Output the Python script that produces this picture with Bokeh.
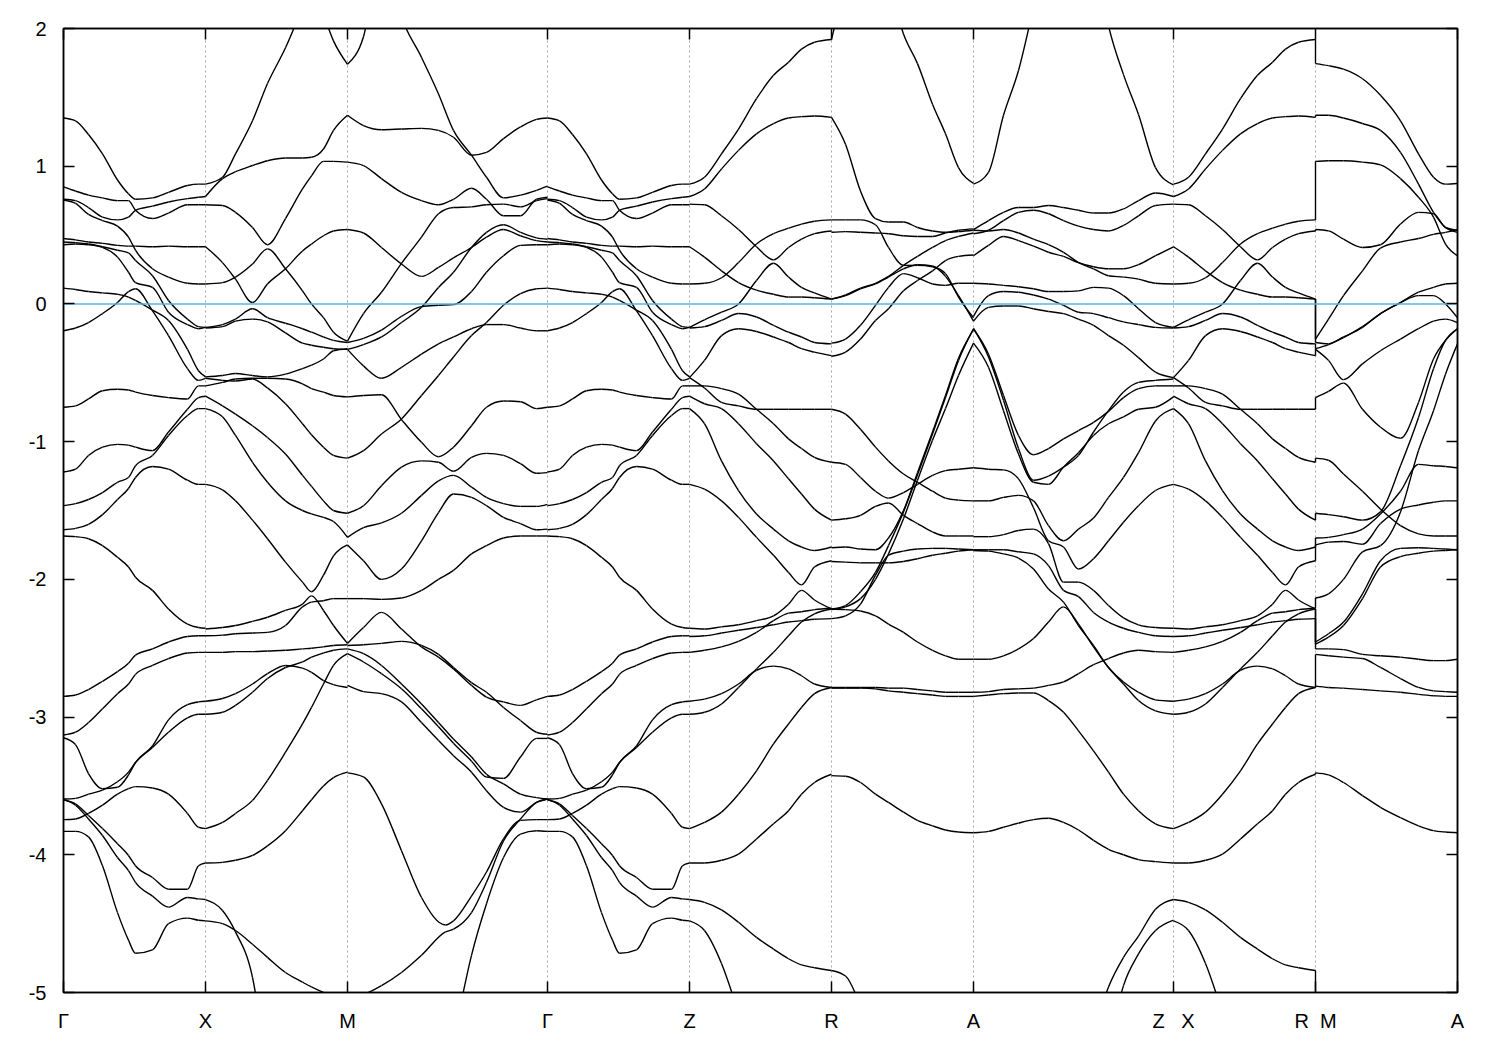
from bokeh.embed import file_html
from bokeh.resources import INLINE
from bokeh.plotting import figure
from bokeh.models import FixedTicker, LinearAxis, Range1d

nan = float("nan")

# k-path tick positions and labels
k_ticks = [0, 142, 284, 484, 626, 768, 910, 1110, 1252, 1394]
k_labels = ["\u0393", "X", "M", "\u0393", "Z", "R", "A", "Z\u00a0\u00a0\u00a0X", "R\u00a0\u00a0M", "A"]
e_ticks = [-5, -4, -3, -2, -1, 0, 1, 2]
e_labels = ["-5", "-4", "-3", "-2", "-1", "0", "1", "2"]

# Gamma -> X (same bands on Gamma -> Z)
GX_x = [0, 12, 25, 39, 54, 65, 72, 89, 105, 124, 135, 142]
GX_1 = [1.35, 1.33, 1.23, 1.09, .90, .80, .76, .77, .81, .86, .87, .87]
GX_2 = [.85, .82, .79, .77, .75, .75, .68, .62, .66, .72, .72, .72]
GX_3 = [.76, .75, .70, .63, .61, .63, .68, .71, .74, .765, .775, .78]
GX_4 = [.755, .73, .65, .605, .565, .485, .39, .255, .195, .15, .145, .145]
GX_5 = [.475, .465, .45, .44, .425, .42, .42, .415, .42, .415, .415, .415]
GX_6 = [.45, .445, .435, .415, .39, .37, .315, .205, .025, -.11, -.165, -.17]
GX_7 = [.43, .435, .43, .41, .34, .23, .155, .12, -.06, -.15, -.18, -.17]
GX_8 = [.115, .105, .09, .08, .07, .05, .025, -.045, -.12, -.33, -.485, -.53]
GX_9 = [-.195, -.175, -.135, -.07, .01, .09, .11, -.05, -.23, -.47, -.555, -.54]
GX_10 = [-.75, -.74, -.69, -.63, -.62, -.625, -.64, -.665, -.68, -.69, -.595, -.595]
GX_11 = [-1.22, -1.20, -1.10, -1.04, -1.02, -1.025, -1.04, -1.065, -.93, -.765, -.68, -.67]
GX_12 = [-1.465, -1.45, -1.42, -1.37, -1.295, -1.26, -1.175, -1.10, -.955, -.81, -.76, -.76]
GX_13 = [-1.64, -1.63, -1.60, -1.53, -1.42, -1.34, -1.26, -1.18, -1.20, -1.28, -1.31, -1.31]
GX_14 = [-1.685, -1.69, -1.705, -1.755, -1.84, -1.91, -1.985, -2.08, -2.215, -2.325, -2.35, -2.355]
GX_15 = [-2.85, -2.84, -2.80, -2.74, -2.67, -2.61, -2.55, -2.505, -2.455, -2.415, -2.41, -2.41]
GX_16 = [-3.13, -3.11, -3.04, -2.94, -2.83, -2.76, -2.69, -2.625, -2.575, -2.535, -2.53, -2.53]
GX_17 = [-3.15, -3.20, -3.41, -3.52, -3.51, -3.42, -3.33, -3.21, -3.02, -2.91, -2.89, -2.885]
GX_18 = [-3.595, -3.59, -3.56, -3.53, -3.47, -3.40, -3.33, -3.22, -3.11, -3.005, -2.98, -2.98]
GX_19 = [-3.745, -3.74, -3.70, -3.64, -3.56, -3.52, -3.505, -3.515, -3.56, -3.70, -3.80, -3.81]
GX_20 = [-3.60, -3.64, -3.74, -3.86, -4.02, -4.115, -4.20, -4.30, -4.38, -4.31, -4.32, -4.325]
GX_21 = [-3.60, -3.63, -3.715, -3.81, -3.92, -4.005, -4.08, -4.165, -4.25, -4.25, -4.08, -4.06]
GX_22 = [-3.83, -3.83, -3.87, -4.08, -4.42, -4.62, -4.715, -4.69, -4.50, -4.46, -4.475, -4.48]
GX = [GX_1, GX_2, GX_3, GX_4, GX_5, GX_6, GX_7, GX_8, GX_9, GX_10, GX_11, GX_12, GX_13, GX_14,
      GX_15, GX_16, GX_17, GX_18, GX_19, GX_20, GX_21, GX_22]

# X -> M
XM_x = [0, 17, 30, 47, 62, 80, 97, 106, 118, 128, 142]
XM_1 = [.87, .92, 1.09, 1.33, 1.60, 1.86, 2.15, 2.3, 2.1, 1.91, 1.74]
XM_2 = [.78, .91, .96, 1.005, 1.04, 1.06, 1.06, 1.065, 1.125, 1.26, 1.37]
XM_3 = [.72, .715, .665, .555, .43, .62, .835, .93, 1.035, 1.035, 1.03]
XM_4 = [.415, .30, .18, .01, .145, .255, .385, .435, .495, .53, .54]
XM_5 = [.145, .155, .195, .29, .40, .255, .095, 0, -.10, -.205, -.27]
XM_6 = [-.17, -.15, -.11, -.035, -.10, -.14, -.18, -.205, -.24, -.265, -.28]
XM_7 = [-.175, -.165, -.125, -.11, -.13, -.21, -.285, -.30, -.315, -.325, -.33]
XM_8 = [-.53, -.52, -.505, -.52, -.53, -.51, -.47, -.445, -.40, -.34, -.325]
XM_9 = [-.595, -.57, -.545, -.54, -.54, -.545, -.58, -.615, -.64, -.665, -.675]
XM_10 = [-.54, -.555, -.56, -.545, -.61, -.725, -.87, -.95, -1.04, -1.10, -1.12]
XM_11 = [-.67, -.74, -.80, -.885, -.97, -1.09, -1.245, -1.325, -1.43, -1.50, -1.52]
XM_12 = [-.76, -.82, -.955, -1.15, -1.295, -1.43, -1.50, -1.525, -1.55, -1.58, -1.695]
XM_13 = [-1.31, -1.35, -1.43, -1.57, -1.705, -1.875, -2.02, -2.09, -1.97, -1.83, -1.75]
XM_14 = [-2.36, -2.35, -2.335, -2.305, -2.275, -2.225, -2.18, -2.12, -2.226, -2.335, -2.465]
XM_15 = [-2.41, -2.405, -2.395, -2.39, -2.385, -2.335, -2.20, -2.165, -2.155, -2.14, -2.14]
XM_16 = [-2.53, -2.53, -2.525, -2.525, -2.52, -2.515, -2.505, -2.50, -2.49, -2.48, -2.475]
XM_17 = [-2.885, -2.865, -2.83, -2.76, -2.685, -2.625, -2.645, -2.675, -2.735, -2.765, -2.785]
XM_18 = [-2.98, -2.965, -2.915, -2.82, -2.72, -2.64, -2.60, -2.565, -2.535, -2.515, -2.505]
XM_19 = [-3.81, -3.765, -3.70, -3.605, -3.46, -3.255, -3.05, -2.93, -2.76, -2.625, -2.54]
XM_20 = [-4.06, -4.055, -4.04, -4.005, -3.935, -3.825, -3.68, -3.60, -3.50, -3.44, -3.40]
XM_21 = [-4.325, -4.405, -4.56, -4.89, -5.6, nan, nan, nan, nan, nan, nan]
XM_22 = [-4.48, -4.50, -4.55, -4.65, -4.745, -4.855, -4.925, -4.96, -5.0, -5.03, -5.04]
XM = [XM_1, XM_2, XM_3, XM_4, XM_5, XM_6, XM_7, XM_8, XM_9, XM_10, XM_11, XM_12, XM_13, XM_14,
      XM_15, XM_16, XM_17, XM_18, XM_19, XM_20, XM_21, XM_22]

# M -> Gamma
MG_x = [0, 16, 34, 54, 74, 91, 106, 124, 139, 156, 173, 189, 200]
MG_x2 = [0, 16, 34, 54, 74, 98, 106, 124, 139, 156, 173, 189, 200]
MG_1 = [1.74, 1.94, 2.6, 2.08, 1.79, 1.525, 1.26, 1.08, .92, .77, .79, .825, .855]
MG_2 = [1.37, 1.295, 1.265, 1.27, 1.275, 1.26, 1.21, 1.08, 1.10, 1.20, 1.285, 1.34, 1.35]
MG_3 = [1.03, 1.005, .91, .81, .75, .72, .76, .84, .76, .64, .64, .76, .775]
MG_4 = [.54, .515, .41, .29, .20, .265, .335, .41, .485, .54, .495, .46, .45]
MG_5 = [-.27, -.07, .085, .295, .485, .655, .70, .705, .72, .725, .705, .75, .765]
MG_6 = [-.28, -.25, -.19, -.09, -.02, -.01, -.005, .09, .23, .35, .425, .43, .43]
MG_7 = [-.33, -.295, -.24, -.135, -.025, .12, .23, .41, .52, .575, .52, .48, .47]
MG_9 = [-1.12, -1.065, -.945, -.835, -.665, -.52, -.385, -.23, -.135, -.01, .075, .11, .115]
MG_10 = [-.33, -.45, -.54, -.46, -.365, -.29, -.24, -.18, -.15, -.15, -.175, -.195, -.195]
MG_11 = [-.675, -.665, -.66, -.84, -1.005, -1.11, -1.04, -.885, -.75, -.705, -.71, -.76, -.75]
MG_12 = [-1.52, -1.465, -1.32, -1.185, -1.14, -1.15, -1.215, -1.115, -1.085, -1.10, -1.16, -1.23, -1.225]
MG_13 = [-1.695, -1.625, -1.59, -1.52, -1.39, -1.285, -1.245, -1.33, -1.405, -1.45, -1.47, -1.47, -1.455]
MG_14 = [-1.75, -1.865, -2.0, -1.925, -1.72, -1.515, -1.38, -1.405, -1.465, -1.55, -1.595, -1.64, -1.635]
MG_15 = [-2.14, -2.14, -2.145, -2.135, -2.08, -2.0, -1.935, -1.815, -1.755, -1.70, -1.685, -1.685, -1.685]
MG_16 = [-2.465, -2.35, -2.24, -2.36, -2.49, -2.565, -2.65, -2.77, -2.855, -2.89, -2.915, -2.875, -2.85]
MG_17 = [-2.48, -2.475, -2.465, -2.45, -2.48, -2.545, -2.64, -2.75, -2.82, -2.93, -3.025, -3.11, -3.125]
MG_18 = [-2.505, -2.54, -2.625, -2.76, -2.905, -3.04, -3.16, -3.29, -3.415, -3.485, -3.56, -3.585, -3.595]
MG_19 = [-2.54, -2.60, -2.685, -2.795, -2.94, -3.07, -3.19, -3.32, -3.435, -3.445, -3.29, -3.155, -3.155]
MG_20 = [-2.77, -2.815, -2.83, -2.89, -3.04, -3.17, -3.28, -3.40, -3.535, -3.655, -3.69, -3.62, -3.595]
MG_23 = [nan, nan, nan, nan, nan, nan, -5.35, -4.73, -4.355, -4.02, -3.85, -3.825, -3.83]
MG = [MG_1, MG_2, MG_3, MG_4, MG_5, MG_6, MG_7, MG_9, MG_10, MG_11, MG_12, MG_13, MG_14, MG_15,
      MG_16, MG_17, MG_18, MG_19, MG_20, MG_23]
MG_21 = [-3.405, -3.435, -3.63, -3.97, -4.31, -4.51, -4.48, -4.30, -4.125, -3.885, -3.75, -3.745, -3.745]
MG_22 = [-5.04, -5.015, -4.95, -4.855, -4.73, -4.56, -4.54, -4.42, -4.20, -3.90, -3.74, -3.62, -3.595]
MG2 = [MG_21, MG_22]

# Z -> R (same bands on X -> R)
ZR_x = [0, 15, 32, 49, 67, 84, 99, 112, 125, 142]
ZR_1 = [.87, .92, 1.09, 1.27, 1.49, 1.66, 1.755, 1.85, 1.90, 1.92]
ZR_2 = [.78, .835, .98, 1.115, 1.235, 1.31, 1.35, 1.36, 1.365, 1.355]
ZR_3 = [.725, .72, .64, .54, .415, .32, .41, .47, .51, .53]
ZR_4 = [.415, .34, .24, .155, .10, .07, .05, .05, .045, .035]
ZR_5 = [.145, .15, .19, .30, .435, .51, .55, .58, .60, .61]
ZR_6 = [-.17, -.115, -.06, 0, .17, .295, .195, .12, .08, .035]
ZR_7 = [-.175, -.165, -.12, -.07, -.095, -.155, -.205, -.24, -.28, -.29]
ZR_8 = [-.535, -.41, -.23, -.18, -.20, -.24, -.28, -.325, -.35, -.375]
ZR_9 = [-.595, -.595, -.615, -.655, -.765, -.87, -.98, -1.05, -1.115, -1.15]
ZR_10 = [-.535, -.61, -.715, -.74, -.765, -.765, -.765, -.765, -.765, -.765]
ZR_11 = [-.67, -.725, -.76, -.87, -1.015, -1.14, -1.27, -1.38, -1.49, -1.57]
ZR_12 = [-.76, -.87, -1.14, -1.355, -1.525, -1.635, -1.72, -1.765, -1.79, -1.765]
ZR_13 = [-1.31, -1.345, -1.43, -1.55, -1.695, -1.825, -1.95, -2.04, -1.91, -1.865]
ZR_14 = [-2.355, -2.36, -2.345, -2.33, -2.30, -2.265, -2.18, -2.08, -2.15, -2.215]
ZR_15 = [-2.415, -2.41, -2.39, -2.37, -2.35, -2.33, -2.31, -2.30, -2.29, -2.285]
ZR_16 = [-2.53, -2.515, -2.49, -2.45, -2.385, -2.30, -2.245, -2.235, -2.22, -2.21]
ZR_17 = [-2.885, -2.87, -2.83, -2.76, -2.66, -2.63, -2.65, -2.70, -2.76, -2.785]
ZR_18 = [-2.98, -2.965, -2.905, -2.785, -2.65, -2.53, -2.41, -2.31, -2.25, -2.215]
ZR_19 = [-3.81, -3.765, -3.69, -3.56, -3.39, -3.195, -3.05, -2.93, -2.83, -2.785]
ZR_20 = [-4.06, -4.06, -4.04, -3.995, -3.885, -3.775, -3.68, -3.56, -3.475, -3.415]
ZR_21 = [-4.325, -4.345, -4.40, -4.49, -4.60, -4.685, -4.755, -4.80, -4.82, -4.84]
ZR_22 = [-4.48, -4.55, -4.79, -5.15, nan, nan, nan, nan, nan, nan]
ZR = [ZR_1, ZR_2, ZR_3, ZR_4, ZR_5, ZR_6, ZR_7, ZR_8, ZR_9, ZR_10, ZR_11, ZR_12, ZR_13, ZR_14,
      ZR_15, ZR_16, ZR_17, ZR_18, ZR_19, ZR_20, ZR_21, ZR_22]

# R -> A
RA_x = [0, 14, 29, 44, 57, 72, 86, 101, 114, 127, 142]
RA_1 = [1.92, 2.3, 2.5, 2.7, 2.35, 1.96, 1.745, 1.45, 1.235, .99, .875]
RA_2 = [1.355, 1.16, .82, .62, .595, .595, .555, .53, .52, .525, .535]
RA_3 = [.61, .61, .61, .575, .41, .28, .28, .27, .22, .05, -.10]
RA_4 = [.035, .06, .11, .145, .195, .255, .285, .275, .20, .06, -.125]
RA_5 = [.035, .065, .115, .15, .20, .28, .345, .41, .46, .49, .515]
RA_6 = [.52, .525, .52, .515, .51, .495, .49, .49, .515, .535, .545]
RA_7 = [-.285, -.255, -.155, -.01, .12, .22, .19, .145, .135, .15, .15]
RA_8 = [-.38, -.35, -.255, -.12, -.035, .095, .17, .24, .315, .345, .355]
RA_9 = [-.765, -.80, -.91, -1.04, -1.14, -1.235, -1.295, -1.36, -1.41, -1.425, -1.43]
RA_10 = [-1.15, -1.165, -1.26, -1.36, -1.41, -1.37, -1.31, -1.245, -1.21, -1.20, -1.19]
RA_11 = [-1.57, -1.56, -1.535, -1.47, -1.445, -1.535, -1.595, -1.655, -1.685, -1.685, -1.685]
RA_12 = [-1.77, -1.765, -1.78, -1.785, -1.70, -1.50, -1.225, -.93, -.665, -.395, -.185]
RA_13 = [-2.215, -2.22, -2.23, -2.265, -2.325, -2.385, -2.455, -2.515, -2.555, -2.58, -2.58]
RA_14 = [-2.215, -2.19, -2.09, -1.95, -1.755, -1.51, -1.24, -.945, -.68, -.41, -.18]
RA_15 = [-2.22, -2.20, -2.14, -2.0, -1.815, -1.56, -1.28, -.99, -.76, -.52, -.285]
RA_16 = [-2.285, -2.265, -2.18, -1.97, -1.825, -1.795, -1.78, -1.775, -1.775, -1.78, -1.785]
RA_17 = [-1.87, -1.875, -1.88, -1.88, -1.88, -1.87, -1.85, -1.825, -1.81, -1.795, -1.785]
RA_18 = [-2.785, -2.785, -2.785, -2.785, -2.79, -2.79, -2.80, -2.81, -2.82, -2.82, -2.82]
RA_19 = [-2.79, -2.79, -2.79, -2.795, -2.81, -2.82, -2.83, -2.84, -2.85, -2.85, -2.85]
RA_20 = [-3.425, -3.43, -3.475, -3.56, -3.62, -3.69, -3.75, -3.79, -3.82, -3.835, -3.84]
RA_21 = [-4.84, -4.88, -5.1, nan, nan, nan, nan, nan, nan, nan, nan]
RA = [RA_1, RA_2, RA_3, RA_4, RA_5, RA_6, RA_7, RA_8, RA_9, RA_10, RA_11, RA_12, RA_13, RA_14,
      RA_15, RA_16, RA_17, RA_18, RA_19, RA_20, RA_21]

# A -> Z
AZ_x = [0, 15, 30, 45, 60, 75, 90, 105, 120, 135, 150, 165, 182, 200]
AZ_1 = [.87, .955, 1.37, 1.695, 2.15, 2.6, 2.7, 2.7, 2.6, 2.02, 1.665, 1.375, .99, .865]
AZ_2 = [.54, .605, .665, .70, .70, .715, .70, .68, .66, .66, .69, .75, .805, .78]
AZ_3 = [.51, .535, .605, .665, .68, .655, .605, .565, .54, .53, .57, .64, .715, .725]
AZ_4 = [.535, .53, .54, .515, .47, .43, .375, .30, .255, .205, .195, .18, .15, .145]
AZ_5 = [.35, .425, .49, .46, .42, .375, .345, .30, .27, .255, .255, .285, .35, .415]
AZ_6 = [.15, .145, .135, .125, .11, .09, .09, .095, .12, .115, .06, -.035, -.135, -.17]
AZ_7 = [-.09, .06, .09, .085, .065, .035, -.01, -.06, -.07, -.10, -.13, -.15, -.17, -.175]
AZ_8 = [-.125, -.025, -.015, -.015, -.035, -.055, -.07, -.11, -.155, -.23, -.30, -.39, -.495, -.535]
AZ_9 = [-.18, -.365, -.665, -.955, -1.095, -1.05, -.98, -.92, -.86, -.78, -.68, -.615, -.595, -.595]
AZ_10 = [-.18, -.385, -.70, -1.05, -1.28, -1.25, -1.185, -1.10, -.93, -.775, -.64, -.57, -.555, -.545]
AZ_11 = [-.285, -.46, -.775, -1.09, -1.295, -1.31, -1.185, -1.08, -.955, -.87, -.82, -.765, -.75, -.675]
AZ_12 = [-1.19, -1.20, -1.205, -1.27, -1.48, -1.72, -1.765, -1.925, -1.85, -1.72, -1.585, -1.465, -1.355, -1.31]
AZ_13 = [-1.43, -1.43, -1.405, -1.39, -1.43, -1.61, -1.72, -1.635, -1.555, -1.405, -1.26, -1.08, -.85, -.76]
AZ_14 = [-1.69, -1.69, -1.675, -1.645, -1.635, -1.74, -2.02, -2.02, -2.08, -2.19, -2.28, -2.33, -2.35, -2.355]
AZ_15 = [-1.785, -1.785, -1.785, -1.80, -1.815, -1.90, -2.08, -2.125, -2.24, -2.31, -2.355, -2.385, -2.41, -2.415]
AZ_16 = [-1.79, -1.795, -1.815, -1.845, -1.925, -2.07, -2.165, -2.335, -2.48, -2.64, -2.745, -2.82, -2.875, -2.885]
AZ_17 = [-2.58, -2.58, -2.555, -2.505, -2.43, -2.31, -2.20, -2.325, -2.49, -2.64, -2.76, -2.88, -2.955, -2.98]
AZ_18 = [-2.82, -2.815, -2.80, -2.795, -2.79, -2.77, -2.745, -2.685, -2.62, -2.575, -2.535, -2.515, -2.525, -2.53]
AZ_19 = [-2.85, -2.84, -2.83, -2.825, -2.825, -2.88, -2.965, -3.10, -3.245, -3.40, -3.56, -3.68, -3.775, -3.81]
AZ_20 = [-3.84, -3.83, -3.80, -3.77, -3.745, -3.735, -3.765, -3.82, -3.895, -3.96, -4.0, -4.035, -4.05, -4.06]
AZ_21 = [nan, nan, nan, nan, nan, nan, nan, nan, -5.3, -4.96, -4.745, -4.59, -4.395, -4.325]
AZ_22 = [nan, nan, nan, nan, nan, nan, nan, nan, nan, -5.4, -4.95, -4.72, -4.55, -4.475]
AZ = [AZ_1, AZ_2, AZ_3, AZ_4, AZ_5, AZ_6, AZ_7, AZ_8, AZ_9, AZ_10, AZ_11, AZ_12, AZ_13, AZ_14,
      AZ_15, AZ_16, AZ_17, AZ_18, AZ_19, AZ_20, AZ_21, AZ_22]

# M -> A
MA_x = [0, 13, 28, 47, 65, 85, 103, 118, 130, 142]
MA_1 = [1.745, 1.73, 1.705, 1.635, 1.515, 1.33, 1.09, .92, .87, .875]
MA_2 = [1.37, 1.37, 1.35, 1.31, 1.26, 1.10, .87, .665, .555, .52]
MA_3 = [1.035, 1.04, 1.04, 1.03, 1.01, .91, .775, .63, .435, .35]
MA_4 = [.54, .53, .47, .41, .43, .58, .665, .655, .555, .535]
MA_5 = [-.255, -.11, .06, .24, .405, .45, .475, .505, .52, .54]
MA_6 = [-.28, -.29, -.24, -.17, -.07, .01, .085, .12, .145, .15]
MA_7 = [-.325, -.295, -.245, -.165, -.07, .01, .06, .06, 0, -.10]
MA_8 = [-.33, -.41, -.55, -.435, -.34, -.255, -.18, -.125, -.11, -.135]
MA_9 = [-.68, -.635, -.575, -.765, -.895, -.975, -.715, -.40, -.265, -.18]
MA_10 = [-1.12, -1.135, -1.235, -1.36, -1.49, -1.61, -1.67, -1.685, -1.685, -1.685]
MA_11 = [-1.52, -1.53, -1.545, -1.57, -1.51, -1.175, -.825, -.47, -.265, -.18]
MA_12 = [-1.70, -1.695, -1.675, -1.635, -1.525, -1.36, -1.165, -1.175, -1.18, -1.19]
MA_13 = [-1.75, -1.73, -1.725, -1.745, -1.595, -1.49, -1.46, -1.44, -1.43, -1.43]
MA_14 = [-2.135, -2.105, -2.0, -1.80, -1.755, -1.51, -1.065, -.775, -.51, -.29]
MA_15 = [-2.455, -2.395, -2.31, -2.105, -1.865, -1.775, -1.77, -1.775, -1.78, -1.785]
MA_16 = [-2.47, -2.42, -2.335, -2.14, -1.91, -1.835, -1.81, -1.795, -1.79, -1.785]
MA_17 = [-2.505, -2.505, -2.51, -2.545, -2.555, -2.565, -2.58, -2.59, -2.59, -2.58]
MA_18 = [-2.545, -2.555, -2.565, -2.575, -2.64, -2.72, -2.785, -2.81, -2.815, -2.82]
MA_19 = [-2.775, -2.785, -2.79, -2.80, -2.81, -2.82, -2.835, -2.845, -2.85, -2.85]
MA_20 = [-3.405, -3.42, -3.475, -3.57, -3.655, -3.73, -3.79, -3.825, -3.835, -3.84]
MA = [MA_1, MA_2, MA_3, MA_4, MA_5, MA_6, MA_7, MA_8, MA_9, MA_10, MA_11, MA_12, MA_13, MA_14,
      MA_15, MA_16, MA_17, MA_18, MA_19, MA_20]
MA_bottom_m = -5.04   # lowest band at M that runs off the plot

zero_x = [0, 1394]
zero_y = [0, 0]

p = figure(frame_width=1394, frame_height=964, x_range=Range1d(0, 1394), y_range=Range1d(-5, 2),
           output_backend="svg", toolbar_location=None, min_border_left=63, min_border_top=28,
           min_border_right=8, min_border_bottom=44, background_fill_color="white")

BLACK = "#000000"
for ax in [p.xaxis[0], p.yaxis[0]]:
    ax.axis_line_color = BLACK
    ax.axis_line_width = 1.5
    ax.major_tick_in = 11
    ax.major_tick_out = 0
    ax.major_tick_line_color = BLACK
    ax.major_tick_line_width = 1.5
    ax.minor_tick_line_color = None
    ax.major_label_text_font = "Liberation Sans"
    ax.major_label_text_font_size = "20px"
    ax.major_label_text_color = BLACK

p.xaxis[0].ticker = FixedTicker(ticks=k_ticks)
p.xaxis[0].major_label_overrides = dict(zip(k_ticks, k_labels))
p.xaxis[0].major_label_standoff = 17
p.yaxis[0].ticker = FixedTicker(ticks=e_ticks)
p.yaxis[0].major_label_overrides = dict(zip(e_ticks, e_labels))
p.yaxis[0].major_label_standoff = 17

for place, ticks in (("above", k_ticks), ("right", e_ticks)):
    ax = LinearAxis(ticker=FixedTicker(ticks=ticks), major_tick_in=11, major_tick_out=0,
                    major_tick_line_color=BLACK, major_tick_line_width=1.5,
                    minor_tick_line_color=None, axis_line_color=BLACK, axis_line_width=1.5,
                    major_label_overrides={t: "" for t in ticks}, major_label_standoff=0)
    p.add_layout(ax, place)

p.ygrid.visible = False
p.xgrid.ticker = FixedTicker(ticks=k_ticks)
p.xgrid.grid_line_color = "#a8a8a8"
p.xgrid.grid_line_dash = "2 3"
p.xgrid.grid_line_width = 1
p.outline_line_color = BLACK
p.outline_line_width = 1.5

segments = [
    (0, GX_x, GX), (142, XM_x, XM), (284, MG_x, MG), (284, MG_x2, MG2), (484, GX_x, GX),
    (626, ZR_x, ZR), (768, RA_x, RA), (910, AZ_x, AZ), (1110, ZR_x, ZR), (1252, MA_x, MA),
]


def sign(v):
    return (v > 0) - (v < 0)


def tangents(x, y):
    """Monotone cubic slopes at each read point, so the curve has no overshoot."""
    n = len(x)
    s = [(y[i + 1] - y[i]) / (x[i + 1] - x[i]) for i in range(n - 1)]
    m = [0.0] * n
    for i in range(1, n - 1):
        h0, h1 = x[i] - x[i - 1], x[i + 1] - x[i]
        q = (s[i - 1] * h1 + s[i] * h0) / (h0 + h1)
        m[i] = (sign(s[i - 1]) + sign(s[i])) * min(abs(s[i - 1]), abs(s[i]), 0.5 * abs(q))
    if n > 2:
        m[0] = (3 * s[0] - m[1]) / 2
        m[-1] = (3 * s[-1] - m[-2]) / 2
    else:
        m[0] = m[-1] = s[0]
    return m


x0, y0, x1, y1, cx0, cy0, cx1, cy1 = [], [], [], [], [], [], [], []
for start, grid, bands in segments:
    for band in bands:
        assert len(band) == len(grid), band
        pairs = [(start + g, e) for g, e in zip(grid, band) if e == e]
        x = [a for a, _ in pairs]
        y = [b for _, b in pairs]
        m = tangents(x, y)
        for i in range(len(x) - 1):
            h = (x[i + 1] - x[i]) / 3
            x0.append(x[i]); y0.append(y[i]); x1.append(x[i + 1]); y1.append(y[i + 1])
            cx0.append(x[i] + h); cy0.append(y[i] + m[i] * h)
            cx1.append(x[i + 1] - h); cy1.append(y[i + 1] - m[i + 1] * h)

p.bezier(x0, y0, x1, y1, cx0, cy0, cx1, cy1, line_color=BLACK, line_width=1.4)

# connectors where the path jumps from R to M: bands joined in energy order
r_end = sorted(b[-1] for b in ZR if b[-1] == b[-1])
m_start = [MA_bottom_m] + sorted(b[0] for b in MA)
jump_xs, jump_ys = [], []
for a, b in zip(r_end, m_start[-len(r_end):]):
    jump_xs.append([1252, 1252])
    jump_ys.append([a, b])
p.multi_line(jump_xs, jump_ys, line_color=BLACK, line_width=1.4)

p.line(zero_x, zero_y, line_color="#56B4E9", line_width=1.6)

open("out.html", "w").write(file_html(p, INLINE))
